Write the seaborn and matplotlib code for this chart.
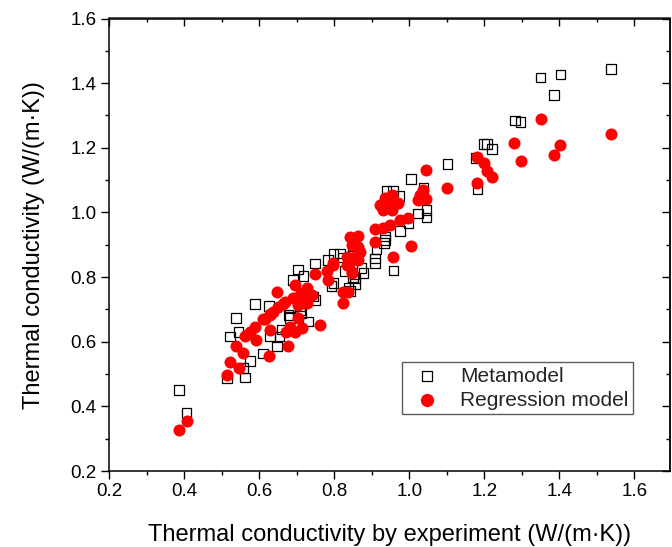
import matplotlib
matplotlib.use("Agg")
import matplotlib.pyplot as plt
from matplotlib.ticker import MultipleLocator
import seaborn as sns
import pandas as pd

# Metamodel (open squares)
meta_x = [0.387, 0.407, 0.514, 0.562, 0.558, 0.576, 0.611, 0.647, 0.522, 0.545,
          0.629, 0.654, 0.660, 0.538, 0.678, 0.682, 0.731, 0.589, 0.627, 0.709,
          0.713, 0.744, 0.749, 0.682, 0.709, 0.691, 0.704, 0.718, 0.749, 0.784,
          0.798, 0.824, 0.798, 0.838, 0.793, 0.842, 0.855, 0.855, 0.829, 0.873,
          0.878, 0.909, 0.958, 0.909, 0.913, 0.933, 0.935, 0.975, 0.998, 1.024,
          1.046, 1.046, 0.940, 0.957, 0.973, 1.005, 1.038, 1.102, 1.182, 1.178,
          1.200, 1.207, 1.220, 1.282, 1.297, 1.350, 1.386, 1.403, 1.537, 0.851,
          0.816, 0.851, 0.935]
meta_y = [0.451, 0.380, 0.487, 0.489, 0.518, 0.541, 0.563, 0.585, 0.616, 0.630,
          0.618, 0.616, 0.638, 0.674, 0.683, 0.673, 0.662, 0.716, 0.711, 0.699,
          0.688, 0.740, 0.730, 0.708, 0.710, 0.791, 0.823, 0.804, 0.842, 0.852,
          0.871, 0.861, 0.781, 0.766, 0.772, 0.757, 0.779, 0.797, 0.818, 0.828,
          0.813, 0.844, 0.820, 0.858, 0.887, 0.906, 0.926, 0.942, 0.968, 0.997,
          1.007, 0.984, 1.067, 1.067, 1.051, 1.103, 1.075, 1.149, 1.073, 1.169,
          1.212, 1.212, 1.197, 1.284, 1.280, 1.417, 1.364, 1.427, 1.443, 0.897,
          0.873, 0.801, 0.914]

# Regression model (filled red circles)
reg_x = [0.387, 0.407, 0.514, 0.522, 0.547, 0.538, 0.556, 0.627, 0.678, 0.562,
         0.576, 0.589, 0.592, 0.629, 0.616, 0.629, 0.638, 0.651, 0.664, 0.647,
         0.682, 0.696, 0.713, 0.673, 0.704, 0.762, 0.691, 0.709, 0.727, 0.740,
         0.704, 0.727, 0.669, 0.696, 0.727, 0.718, 0.736, 0.749, 0.780, 0.784,
         0.798, 0.798, 0.824, 0.838, 0.824, 0.847, 0.842, 0.864, 0.847, 0.864,
         0.869, 0.855, 0.833, 0.842, 0.864, 0.909, 0.931, 0.949, 0.976, 0.998,
         0.909, 0.958, 1.005, 0.931, 0.953, 0.971, 0.935, 0.953, 1.029, 1.024,
         1.046, 1.037, 1.046, 1.102, 1.180, 1.182, 1.200, 1.208, 1.220, 1.280,
         1.298, 1.350, 1.386, 1.403, 1.537, 0.922, 0.949, 0.848, 0.833, 0.860,
         0.611, 0.629]
reg_y = [0.327, 0.355, 0.497, 0.538, 0.518, 0.587, 0.565, 0.557, 0.587, 0.617,
         0.630, 0.645, 0.605, 0.635, 0.669, 0.683, 0.693, 0.708, 0.718, 0.753,
         0.645, 0.630, 0.642, 0.630, 0.673, 0.651, 0.735, 0.745, 0.735, 0.745,
         0.714, 0.719, 0.724, 0.776, 0.766, 0.751, 0.746, 0.811, 0.819, 0.791,
         0.845, 0.837, 0.755, 0.755, 0.721, 0.813, 0.923, 0.928, 0.898, 0.893,
         0.877, 0.862, 0.862, 0.847, 0.852, 0.948, 0.953, 0.960, 0.977, 0.982,
         0.909, 0.863, 0.896, 1.007, 1.009, 1.028, 1.044, 1.054, 1.054, 1.039,
         1.042, 1.070, 1.131, 1.075, 1.092, 1.171, 1.152, 1.129, 1.110, 1.216,
         1.160, 1.290, 1.178, 1.209, 1.242, 1.023, 1.028, 0.816, 0.836, 0.857,
         0.669, 0.687]

x_ticks = [0.2, 0.4, 0.6, 0.8, 1.0, 1.2, 1.4, 1.6]
y_ticks = [0.2, 0.4, 0.6, 0.8, 1.0, 1.2, 1.4, 1.6]

sns.set_theme(style="white")
plt.rcParams["font.family"] = ["Liberation Sans", "DejaVu Sans"]

fig = plt.figure(figsize=(6.72, 5.47), dpi=100)
ax = fig.add_axes([109 / 672, 76 / 547, (670 - 109) / 672, (471 - 18.5) / 547])

meta_df = pd.DataFrame({"x": meta_x, "y": meta_y})
reg_df = pd.DataFrame({"x": reg_x, "y": reg_y})

sns.scatterplot(data=meta_df, x="x", y="y", ax=ax, marker="s", s=48,
                linewidth=0.9, label="Metamodel", zorder=2)
sns.scatterplot(data=reg_df, x="x", y="y", ax=ax, marker="o", s=75,
                linewidth=0, label="Regression model", zorder=3)
ax.collections[0].set_facecolor("none")
ax.collections[0].set_edgecolor("black")
ax.collections[1].set_facecolor("#ff0000")
ax.collections[1].set_edgecolor("#ff0000")

ax.set_xlim(0.2, 1.695)
ax.set_ylim(0.2, 1.6)
ax.set_xticks(x_ticks)
ax.set_yticks(y_ticks)
ax.set_xticklabels([f"{v:.1f}" for v in x_ticks])
ax.set_yticklabels([f"{v:.1f}" for v in y_ticks])
ax.xaxis.set_minor_locator(MultipleLocator(0.1))
ax.yaxis.set_minor_locator(MultipleLocator(0.1))
ax.tick_params(which="major", direction="out", length=6, width=1.0,
               labelsize=13.5, color="black", labelcolor="black", pad=3,
               bottom=True, left=True)
ax.tick_params(which="minor", direction="out", length=3, width=1.0,
               color="black", bottom=True, left=True)
for sp in ax.spines.values():
    sp.set_visible(True)
    sp.set_color("black")
    sp.set_linewidth(1.1)

# inward ticks on top and right
top = ax.secondary_xaxis("top")
top.set_xticks(x_ticks)
top.xaxis.set_minor_locator(MultipleLocator(0.1))
top.tick_params(which="major", direction="in", length=6, width=1.0, labeltop=False, color="black")
top.tick_params(which="minor", direction="in", length=3, width=1.0, color="black")
top.spines["top"].set_linewidth(1.1)
right = ax.secondary_yaxis("right")
right.set_yticks(y_ticks)
right.yaxis.set_minor_locator(MultipleLocator(0.1))
right.tick_params(which="major", direction="in", length=6, width=1.0, labelright=False, color="black")
right.tick_params(which="minor", direction="in", length=3, width=1.0, color="black")
right.spines["right"].set_linewidth(1.1)

ax.set_xlabel("Thermal conductivity by experiment (W/(m\u00b7K))", fontsize=17,
              color="black", labelpad=17)
ax.set_ylabel("Thermal conductivity (W/(m\u00b7K))", fontsize=17,
              color="black", labelpad=18)

leg = ax.legend(loc="lower left", bbox_to_anchor=(0.522, 0.126), borderaxespad=0,
                fontsize=15, frameon=True, fancybox=False, edgecolor="#333333",
                handletextpad=0.6, borderpad=0.2, labelspacing=0.25,
                markerscale=1.1, handlelength=2.0)
leg.get_frame().set_linewidth(1.0)

fig.savefig("out.png", dpi=100, facecolor="white")
